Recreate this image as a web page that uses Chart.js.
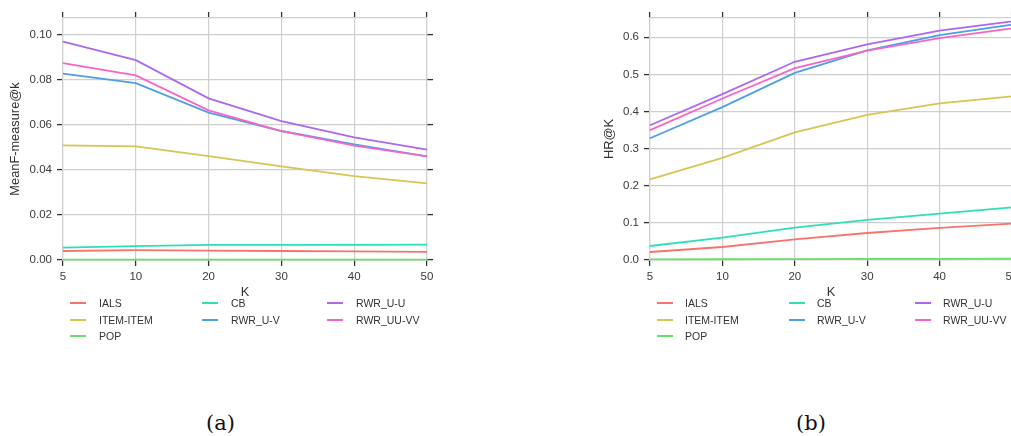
<!DOCTYPE html>
<html>
<head>
<meta charset="utf-8">
<script src="https://cdn.jsdelivr.net/npm/chart.js@4.4.1/dist/chart.umd.min.js"></script>
<style>
  html, body { margin: 0; padding: 0; background: #fff; overflow: hidden; }
  #wrap { position: relative; width: 1011px; height: 436px; overflow: hidden; }
  canvas { position: absolute; top: 0; }
  .item { position: absolute; white-space: nowrap; font-family: "Liberation Sans", Arial, sans-serif;
          font-size: 10.5px; line-height: 14px; color: #333; }
  .swatch { position: absolute; width: 16px; height: 2px; }
  .caption { position: absolute; font-family: "DejaVu Serif", "Liberation Serif", serif; font-size: 21px;
             line-height: 21px; color: #111; }
</style>
</head>
<body>
<div id="wrap">
  <canvas id="chartA" width="440" height="302" style="left:0;width:440px;height:302px"></canvas>
  <canvas id="chartB" width="435" height="302" style="left:590px;width:435px;height:302px"></canvas>
  <div id="legendA"></div>
  <div id="legendB"></div>
  <div class="caption" style="left:206px;top:413px">(a)</div>
  <div class="caption" style="left:796px;top:413px">(b)</div>
</div>
<script>
// x categories (evenly spaced in the figure)
const kLabels = ['5', '10', '20', '30', '40', '50'];
const methods = ['IALS', 'ITEM-ITEM', 'POP', 'CB', 'RWR_U-V', 'RWR_U-U', 'RWR_UU-VV'];
const colors = ['#f7736c', '#d6c654', '#6cdc6c', '#2ee0b6', '#4c9fe8', '#ac68ef', '#f766c6'];

// (a) MeanF-measure@k
const fIALS = [0.0040, 0.0044, 0.0042, 0.0040, 0.0038, 0.0036];
const fItem = [0.0509, 0.0505, 0.0461, 0.0416, 0.0373, 0.0340];
const fPop = [0.0002, 0.0002, 0.0002, 0.0002, 0.0002, 0.0002];
const fCB = [0.0055, 0.0062, 0.0067, 0.0067, 0.0067, 0.0068];
const fUV = [0.0828, 0.0786, 0.0655, 0.0573, 0.0514, 0.0460];
const fUU = [0.0970, 0.0888, 0.0718, 0.0617, 0.0545, 0.0490];
const fUUVV = [0.0875, 0.0820, 0.0665, 0.0573, 0.0508, 0.0460];

// (b) HR@K
const hIALS = [0.0216, 0.0350, 0.0558, 0.0728, 0.0863, 0.0980];
const hItem = [0.2175, 0.2750, 0.3440, 0.3910, 0.4220, 0.4410];
const hPop = [0.0015, 0.0020, 0.0025, 0.0030, 0.0030, 0.0035];
const hCB = [0.0377, 0.0600, 0.0870, 0.1080, 0.1250, 0.1420];
const hUV = [0.3280, 0.4120, 0.5040, 0.5650, 0.6060, 0.6340];
const hUU = [0.3630, 0.4470, 0.5340, 0.5810, 0.6180, 0.6430];
const hUUVV = [0.3500, 0.4350, 0.5170, 0.5640, 0.5980, 0.6240];

// legend grid (matplotlib fills columns 3/2/2)
const legendCol = [0, 0, 0, 1, 1, 2, 2];
const legendRow = [0, 1, 2, 0, 1, 0, 1];

Chart.defaults.font.family = '"Liberation Sans", Arial, sans-serif';
Chart.defaults.color = '#3a3a3a';

const gridColor = '#cfcfcf';
const tickColor = '#333';

function makeDatasets(series) {
  return series.map((data, i) => ({
    label: methods[i],
    data: data,
    borderColor: colors[i],
    backgroundColor: colors[i],
    borderWidth: 1.8,
    pointRadius: 0,
    tension: 0,
    clip: false,
    order: series.length - i
  }));
}

function makeChart(id, series, yTitle, yMax, yStep, digits, yWidth, titlePad) {
  const ctx = document.getElementById(id).getContext('2d');
  const baseGrid = { color: gridColor, lineWidth: 1.2, tickColor: tickColor, tickLength: 6, tickWidth: 1.3 };
  return new Chart(ctx, {
    type: 'line',
    data: { labels: kLabels, datasets: makeDatasets(series) },
    options: {
      responsive: false,
      animation: false,
      layout: { padding: 0 },
      plugins: { legend: { display: false }, tooltip: { enabled: false } },
      scales: {
        x: {
          type: 'category',
          position: 'bottom',
          offset: false,
          grid: baseGrid,
          border: { color: gridColor, width: 1.2 },
          ticks: { font: { size: 11.5 }, padding: 4, maxRotation: 0 },
          title: { display: true, text: 'K', font: { size: 12.8 }, color: '#333', padding: { top: 0, bottom: 2 } },
          afterFit: (s) => { s.height = 42; }
        },
        x2: {
          type: 'category',
          position: 'top',
          offset: false,
          grid: Object.assign({}, baseGrid, { drawOnChartArea: false }),
          border: { color: gridColor, width: 1.2 },
          ticks: { display: false },
          afterFit: (s) => { s.height = 18; }
        },
        y: {
          position: 'left',
          min: 0,
          max: yMax,
          grid: baseGrid,
          border: { color: gridColor, width: 1.2 },
          ticks: { stepSize: yStep, includeBounds: false, font: { size: 11.5 }, padding: 5,
                   callback: (v) => v.toFixed(digits) },
          title: { display: true, text: yTitle, font: { size: 12.8 }, color: '#333', padding: { top: titlePad, bottom: 0 } },
          afterFit: (s) => { s.width = yWidth; }
        },
        y2: {
          position: 'right',
          min: 0,
          max: yMax,
          grid: Object.assign({}, baseGrid, { drawOnChartArea: false }),
          border: { color: gridColor, width: 1.2 },
          ticks: { stepSize: yStep, includeBounds: false, display: false },
          afterFit: (s) => { s.width = 13; }
        }
      }
    }
  });
}

function makeLegend(id, lineX, rowY, gap) {
  const box = document.getElementById(id);
  methods.forEach((name, i) => {
    const col = legendCol[i];
    const row = legendRow[i];
    const sw = document.createElement('div');
    sw.className = 'swatch';
    sw.style.left = lineX[col] + 'px';
    sw.style.top = (rowY[row] - 1) + 'px';
    sw.style.background = colors[i];
    box.appendChild(sw);
    const tx = document.createElement('div');
    tx.className = 'item';
    tx.style.left = (lineX[col] + gap) + 'px';
    tx.style.top = (rowY[row] - 7) + 'px';
    tx.textContent = name;
    box.appendChild(tx);
  });
}

makeChart('chartA', [fIALS, fItem, fPop, fCB, fUV, fUU, fUUVV], 'MeanF-measure@k', 0.1075, 0.02, 2, 63, 8);
makeChart('chartB', [hIALS, hItem, hPop, hCB, hUV, hUU, hUUVV], 'HR@K', 0.652, 0.1, 1, 60, 12);

makeLegend('legendA', [70, 202, 327], [303, 320, 336], 29);
makeLegend('legendB', [657, 789, 915], [303, 320, 336], 28);
</script>
</body>
</html>
